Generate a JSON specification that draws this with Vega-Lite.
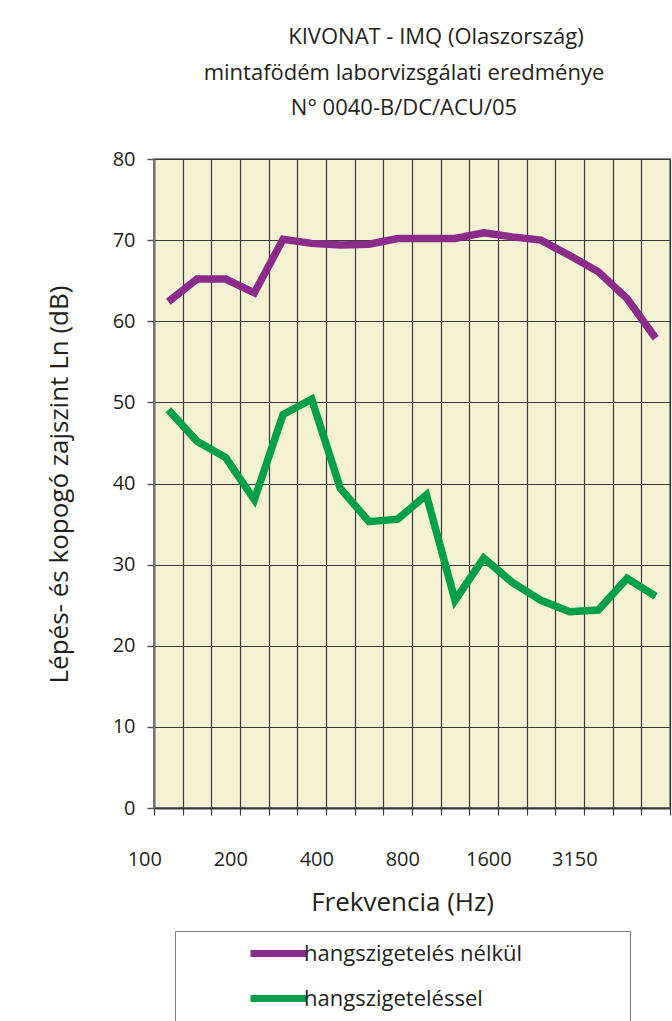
{
  "$schema": "https://vega.github.io/schema/vega-lite/v6.json",
  "width": 516,
  "height": 649,
  "autosize": {"type": "none"},
  "padding": {"left": 154, "top": 159, "right": 2, "bottom": 213},
  "background": "white",
  "config": {
    "font": "Open Sans",
    "view": {"fill": "#F4F2D3", "stroke": "#8C8F92", "strokeWidth": 2}
  },
  "title": {
    "text": ["\u2800\u2800\u2800\u2800KIVONAT  -  IMQ (Olaszország)", "mintafödém laborvizsgálati eredménye", "N° 0040-B/DC/ACU/05"],
    "fontSize": 22,
    "fontWeight": "normal",
    "color": "#231F20",
    "lineHeight": 35.5,
    "anchor": "middle",
    "frame": "group",
    "dx": -8,
    "offset": 29
  },
  "datasets": {
    "meas": [
      {"f": "100", "s": "hangszigetelés nélkül", "ln": 62.4},
      {"f": "125", "s": "hangszigetelés nélkül", "ln": 65.2},
      {"f": "160", "s": "hangszigetelés nélkül", "ln": 65.2},
      {"f": "200", "s": "hangszigetelés nélkül", "ln": 63.5},
      {"f": "250", "s": "hangszigetelés nélkül", "ln": 70.1},
      {"f": "315", "s": "hangszigetelés nélkül", "ln": 69.6},
      {"f": "400", "s": "hangszigetelés nélkül", "ln": 69.4},
      {"f": "500", "s": "hangszigetelés nélkül", "ln": 69.5},
      {"f": "630", "s": "hangszigetelés nélkül", "ln": 70.2},
      {"f": "800", "s": "hangszigetelés nélkül", "ln": 70.2},
      {"f": "1000", "s": "hangszigetelés nélkül", "ln": 70.2},
      {"f": "1250", "s": "hangszigetelés nélkül", "ln": 70.9},
      {"f": "1600", "s": "hangszigetelés nélkül", "ln": 70.4},
      {"f": "2000", "s": "hangszigetelés nélkül", "ln": 70.0},
      {"f": "2500", "s": "hangszigetelés nélkül", "ln": 68.1},
      {"f": "3150", "s": "hangszigetelés nélkül", "ln": 66.1},
      {"f": "4000", "s": "hangszigetelés nélkül", "ln": 62.8},
      {"f": "5000", "s": "hangszigetelés nélkül", "ln": 57.9},
      {"f": "100", "s": "hangszigeteléssel", "ln": 49.1},
      {"f": "125", "s": "hangszigeteléssel", "ln": 45.2},
      {"f": "160", "s": "hangszigeteléssel", "ln": 43.2},
      {"f": "200", "s": "hangszigeteléssel", "ln": 38.0},
      {"f": "250", "s": "hangszigeteléssel", "ln": 48.5},
      {"f": "315", "s": "hangszigeteléssel", "ln": 50.4},
      {"f": "400", "s": "hangszigeteléssel", "ln": 39.4},
      {"f": "500", "s": "hangszigeteléssel", "ln": 35.3},
      {"f": "630", "s": "hangszigeteléssel", "ln": 35.6},
      {"f": "800", "s": "hangszigeteléssel", "ln": 38.6},
      {"f": "1000", "s": "hangszigeteléssel", "ln": 25.6},
      {"f": "1250", "s": "hangszigeteléssel", "ln": 30.8},
      {"f": "1600", "s": "hangszigeteléssel", "ln": 27.8},
      {"f": "2000", "s": "hangszigeteléssel", "ln": 25.6},
      {"f": "2500", "s": "hangszigeteléssel", "ln": 24.2},
      {"f": "3150", "s": "hangszigeteléssel", "ln": 24.4},
      {"f": "4000", "s": "hangszigeteléssel", "ln": 28.3},
      {"f": "5000", "s": "hangszigeteléssel", "ln": 26.1}
    ]
  },
  "data": {"name": "meas"},
  "mark": {"type": "line", "strokeWidth": 7.5, "strokeJoin": "miter", "strokeCap": "butt"},
  "encoding": {
    "x": {
      "field": "f",
      "type": "ordinal",
      "sort": ["100", "125", "160", "200", "250", "315", "400", "500", "630", "800", "1000", "1250", "1600", "2000", "2500", "3150", "4000", "5000"],
      "scale": {"paddingInner": 0, "paddingOuter": 0},
      "axis": {
        "title": "Frekvencia (Hz)",
        "bandPosition": 0,
        "tickBand": "extent",
        "grid": true,
        "gridColor": "#3A3A3A",
        "gridWidth": 1.2,
        "gridOpacity": 1,
        "ticks": true,
        "tickSize": 7,
        "tickColor": "#3A3A3A",
        "tickWidth": 1.2,
        "domainColor": "#3A3A3A",
        "domainWidth": 2,
        "labelAngle": 0,
        "labelExpr": "indexof(['100','200','400','800','1600','3150'], datum.label) >= 0 ? datum.label : ''",
        "labelOffset": -24,
        "labelBaseline": "alphabetic",
        "labelPadding": 50,
        "labelFontSize": 20,
        "labelColor": "#231F20",
        "labelOverlap": false,
        "titleFontSize": 26,
        "titleFontWeight": "normal",
        "titleColor": "#231F20",
        "titleX": 248,
        "titleY": 102,
        "titleBaseline": "alphabetic",
        "titleAlign": "center",
        "titleAnchor": null
      }
    },
    "y": {
      "field": "ln",
      "type": "quantitative",
      "scale": {"domain": [0, 80], "nice": false, "zero": true},
      "axis": {
        "title": "Lépés- és kopogó zajszint Ln (dB)",
        "values": [0, 10, 20, 30, 40, 50, 60, 70, 80],
        "grid": true,
        "gridColor": "#3A3A3A",
        "gridWidth": 1.2,
        "gridOpacity": 1,
        "tickSize": 7,
        "tickColor": "#555555",
        "tickWidth": 1.5,
        "domainColor": "#6E7073",
        "domainWidth": 2,
        "labelFontSize": 20,
        "labelPadding": 12,
        "labelColor": "#231F20",
        "titleFontSize": 26,
        "titleFontWeight": "normal",
        "titleColor": "#231F20",
        "titleX": -87,
        "titleY": 325,
        "titleAngle": 270,
        "titleBaseline": "alphabetic",
        "titleAlign": "center",
        "titleAnchor": null
      }
    },
    "color": {
      "field": "s",
      "type": "nominal",
      "sort": ["hangszigetelés nélkül", "hangszigeteléssel"],
      "scale": {"domain": ["hangszigetelés nélkül", "hangszigeteléssel"], "range": ["#8B2C8B", "#00A04A"]},
      "legend": {
        "orient": "none",
        "legendX": 21,
        "legendY": 772,
        "title": null,
        "symbolType": "M-3.5,0H3.5",
        "symbolSize": 256,
        "symbolStrokeWidth": 7,
        "symbolOffset": 81,
        "labelOffset": 14,
        "labelFontSize": 22,
        "labelColor": "#231F20",
        "labelLimit": 420,
        "labelExpr": "datum.label + '\u2800\u2800\u2800\u2800\u2800\u2800'",
        "padding": 11,
        "rowPadding": 16,
        "strokeColor": "#7F7F7F",
        "fillColor": "white"
      }
    }
  }
}
